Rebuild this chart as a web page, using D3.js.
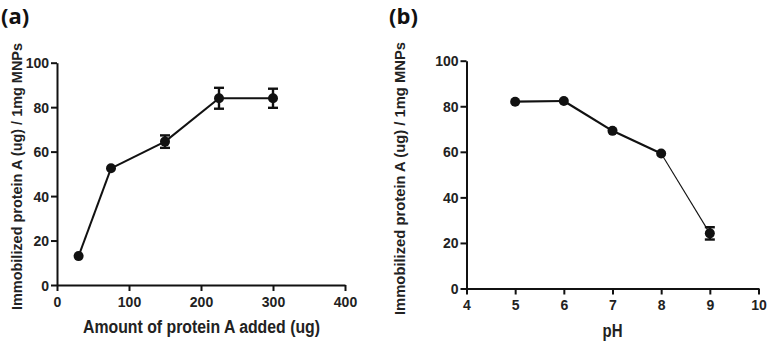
<!DOCTYPE html>
<html>
<head>
<meta charset="utf-8">
<script src="https://cdn.jsdelivr.net/npm/d3@7"></script>
<style>
  body { margin: 0; background: #fff; }
  svg { display: block; }
</style>
</head>
<body>
<div id="chart"></div>
<script>
// Data
const amountAdded = [30, 75, 150, 225, 300];
const immobilizedA = [13, 52.5, 64.5, 84, 84];
const errorA = [1, 1, 2.8, 4.7, 4.3];

const phValues = [5, 6, 7, 8, 9];
const immobilizedB = [82, 82.3, 69.2, 59.3, 24.2];
const errorB = [1, 1, 1, 1, 2.7];

const ticksAX = [0, 100, 200, 300, 400];
const ticksBX = [4, 5, 6, 7, 8, 9, 10];
const ticksY = [0, 20, 40, 60, 80, 100];

const width = 767;
const height = 344;

const svg = d3.select("#chart")
    .append("svg")
    .attr("width", width)
    .attr("height", height)
    .attr("viewBox", [0, 0, width, height]);

const panels = [
    {
        tag: "(a)", tagX: 1,
        xs: amountAdded, ys: immobilizedA, err: errorA,
        xDomain: [0, 400], xRange: [57, 345], yRange: [285, 62.7],
        xTicks: ticksAX,
        xLabel: "Amount of protein A added (ug)", xLabelX: 201.5, xLabelLen: 237, xLabelY: 333,
        yLabelX: 17, yLabelY: 176.5, yLabelLen: 267,
        segWidth: i => 2
    },
    {
        tag: "(b)", tagX: 389,
        xs: phValues, ys: immobilizedB, err: errorB,
        xDomain: [4, 10], xRange: [466.5, 758.5], yRange: [288.5, 60.7],
        xTicks: ticksBX,
        xLabel: "pH", xLabelX: 612.5, xLabelLen: 20, xLabelY: 337,
        yLabelX: 400, yLabelY: 178.5, yLabelLen: 273,
        segWidth: i => (i === 3 ? 1.1 : 2.2)
    }
];

const tickFont = t => t
    .attr("font-family", "'Liberation Sans', Arial, sans-serif")
    .attr("font-weight", "bold")
    .attr("font-size", 14)
    .attr("fill", "#222");

panels.forEach(p => {
    const x = d3.scaleLinear(p.xDomain, p.xRange);
    const y = d3.scaleLinear([0, 100], p.yRange);
    const g = svg.append("g");

    // panel tag
    g.append("text")
        .attr("x", p.tagX)
        .attr("y", 24)
        .attr("font-family", "'Open Sans', sans-serif")
        .attr("font-weight", "bold")
        .attr("font-size", 22)
        .attr("fill", "#111")
        .text(p.tag);

    // axes
    g.append("g")
        .attr("transform", `translate(0,${p.yRange[0]})`)
        .call(d3.axisBottom(x).tickValues(p.xTicks).tickFormat(d3.format("d")).tickSizeInner(6).tickSizeOuter(0).tickPadding(6))
        .call(a => a.selectAll("path, line").attr("stroke", "#111").attr("stroke-width", 2))
        .call(a => a.selectAll("text").call(tickFont));

    g.append("g")
        .attr("transform", `translate(${p.xRange[0]},0)`)
        .call(d3.axisLeft(y).tickValues(ticksY).tickSizeInner(6).tickSizeOuter(0).tickPadding(2))
        .call(a => a.selectAll("path, line").attr("stroke", "#111").attr("stroke-width", 2))
        .call(a => a.selectAll("text").call(tickFont).attr("dy", "0.36em"));

    // axis titles
    g.append("text")
        .attr("x", p.xLabelX)
        .attr("y", p.xLabelY)
        .attr("text-anchor", "middle")
        .attr("font-family", "'Liberation Sans', Arial, sans-serif")
        .attr("font-weight", "bold")
        .attr("font-size", 18)
        .attr("fill", "#222")
        .attr("textLength", p.xLabelLen)
        .attr("lengthAdjust", "spacingAndGlyphs")
        .text(p.xLabel);

    g.append("text")
        .attr("transform", `translate(${p.yLabelX},${p.yLabelY}) rotate(-90)`)
        .attr("text-anchor", "middle")
        .attr("dy", "0.35em")
        .attr("font-family", "'Liberation Sans', Arial, sans-serif")
        .attr("font-weight", "bold")
        .attr("font-size", 15)
        .attr("fill", "#222")
        .attr("textLength", p.yLabelLen)
        .attr("lengthAdjust", "spacingAndGlyphs")
        .text("Immobilized protein A (ug) / 1mg MNPs");

    // connecting segments
    const pts = p.xs.map((d, i) => [x(d), y(p.ys[i])]);
    g.append("g")
        .selectAll("line")
        .data(d3.pairs(pts))
        .join("line")
        .attr("x1", d => d[0][0]).attr("y1", d => d[0][1])
        .attr("x2", d => d[1][0]).attr("y2", d => d[1][1])
        .attr("stroke", "#111")
        .attr("stroke-width", (d, i) => p.segWidth(i));

    // error bars
    const eb = g.append("g")
        .attr("stroke", "#111")
        .attr("stroke-width", 2.4)
        .selectAll("g")
        .data(p.xs.map((d, i) => ({x: d, y: p.ys[i], e: p.err[i]})))
        .join("g");
    eb.append("line")
        .attr("x1", d => x(d.x)).attr("x2", d => x(d.x))
        .attr("y1", d => y(d.y - d.e)).attr("y2", d => y(d.y + d.e));
    eb.filter(d => d.e > 1.5).selectAll("line.cap")
        .data(d => [d.y - d.e, d.y + d.e].map(v => ({x: d.x, v})))
        .join("line")
        .attr("class", "cap")
        .attr("x1", d => x(d.x) - 5).attr("x2", d => x(d.x) + 5)
        .attr("y1", d => y(d.v)).attr("y2", d => y(d.v));

    // markers
    g.append("g")
        .selectAll("circle")
        .data(pts)
        .join("circle")
        .attr("cx", d => d[0])
        .attr("cy", d => d[1])
        .attr("r", 5)
        .attr("fill", "#111");
});
</script>
</body>
</html>
